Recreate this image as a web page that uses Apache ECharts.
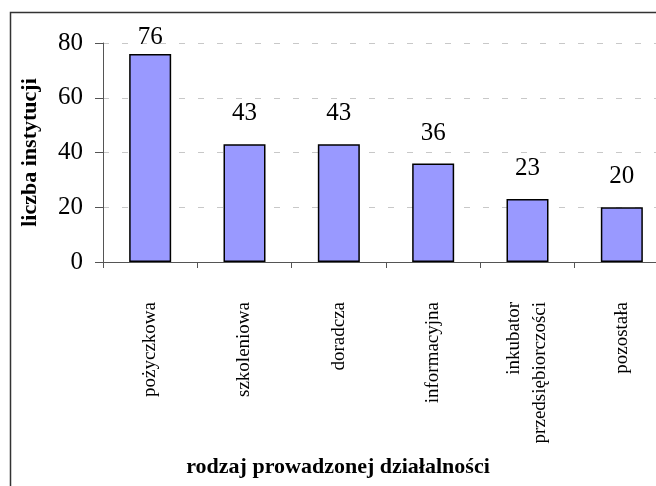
<!DOCTYPE html>
<html><head><meta charset="utf-8">
<script src="https://cdn.jsdelivr.net/npm/echarts@6/dist/echarts.min.js"></script>
<style>html,body{margin:0;padding:0;background:#fff;overflow:hidden;width:656px;height:486px}#c{width:669px;height:486px}</style>
</head><body><div id="c"></div>
<script>
const categories = ['pożyczkowa','szkoleniowa','doradcza','informacyjna','inkubator\nprzedsiębiorczości','pozostała'];
const values = [76, 43, 43, 36, 23, 20];
const yTicks = {min: 0, max: 80, interval: 20};
const yTitle = 'liczba instytucji';
const xTitle = 'rodzaj prowadzonej działalności';

const serif = '"Liberation Serif", "Times New Roman", serif';
const chart = echarts.init(document.getElementById('c'), null, {renderer: 'canvas'});
chart.setOption({
  animation: false,
  backgroundColor: '#fff',
  graphic: [{
    type: 'rect', left: 8, top: 10, z: 100,
    shape: {width: 700, height: 520},
    style: {fill: 'none', stroke: '#333', lineWidth: 1.5}
  }],
  grid: {left: 103, top: 43, right: 0, height: 219},
  xAxis: {
    type: 'category', data: categories,
    name: xTitle, nameLocation: 'middle', nameGap: 194,
    nameTextStyle: {fontFamily: serif, fontWeight: 'bold', fontSize: 22, color: '#000', padding: [0, 96, 0, 0]},
    axisLine: {lineStyle: {color: '#555', width: 1}},
    axisTick: {show: true, length: 6, lineStyle: {color: '#555'}},
    axisLabel: {rotate: 90, margin: 40, fontFamily: serif, fontSize: 19, color: '#000', interval: 0, lineHeight: 26}
  },
  yAxis: {
    type: 'value', min: yTicks.min, max: yTicks.max, interval: yTicks.interval,
    name: yTitle, nameLocation: 'middle', nameGap: 62, nameRotate: 90,
    nameTextStyle: {fontFamily: serif, fontWeight: 'bold', fontSize: 22, color: '#000'},
    axisLine: {show: true, lineStyle: {color: '#555', width: 1}},
    axisTick: {show: true, length: 8, lineStyle: {color: '#555'}},
    axisLabel: {margin: 20, fontFamily: serif, fontSize: 25, color: '#000'},
    splitLine: {show: true, lineStyle: {color: '#c8c8c8', type: [6, 13], width: 1}}
  },
  series: [{
    type: 'bar', barWidth: 42,
    data: values.map((v, i) => i === 0 ? {value: v, label: {distance: 4}} : v),
    itemStyle: {color: '#9999FF', borderColor: '#000', borderWidth: 1.5},
    label: {show: true, position: 'top', distance: 18, fontFamily: serif, fontSize: 25, color: '#000'}
  }]
});
</script></body></html>
